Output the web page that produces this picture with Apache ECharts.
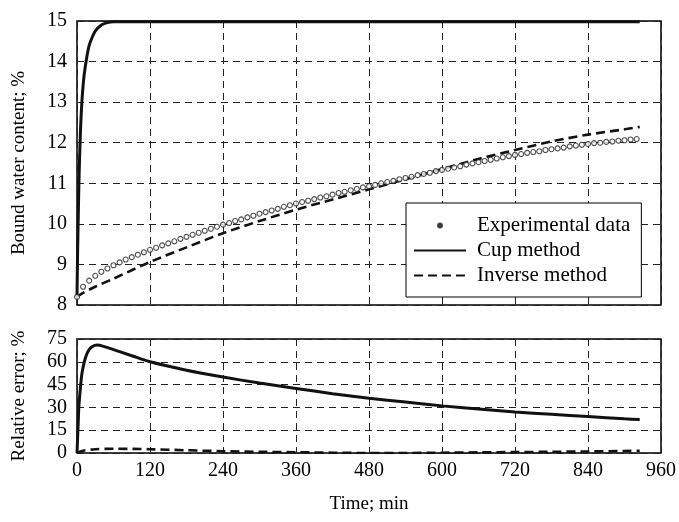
<!DOCTYPE html>
<html>
<head>
<meta charset="utf-8">
<script src="https://cdn.jsdelivr.net/npm/echarts@6/dist/echarts.min.js"></script>
<style>html,body{margin:0;padding:0;background:#fff}#c{width:679px;height:522px}</style>
</head>
<body>
<div id="c"></div>
<script>
// Experimental data: [time (min), bound water content (%)]
var expTime = [0,10,20,30,40,50,60,70,80,90,100,110,120,130,140,150,160,170,180,190,200,210,220,230,240,250,260,270,280,290,300,310,320,330,340,350,360,370,380,390,400,410,420,430,440,450,460,470,480,490,500,510,520,530,540,550,560,570,580,590,600,610,620,630,640,650,660,670,680,690,700,710,720,730,740,750,760,770,780,790,800,810,820,830,840,850,860,870,880,890,900,910,920];
var expValue = [8.20,8.45,8.60,8.72,8.82,8.90,8.98,9.05,9.12,9.18,9.24,9.30,9.36,9.41,9.47,9.52,9.57,9.63,9.68,9.73,9.78,9.83,9.88,9.93,9.98,10.02,10.07,10.11,10.16,10.20,10.25,10.29,10.33,10.37,10.42,10.46,10.50,10.54,10.57,10.61,10.65,10.68,10.72,10.76,10.79,10.83,10.86,10.90,10.93,10.96,11.00,11.03,11.06,11.10,11.13,11.16,11.20,11.23,11.26,11.30,11.33,11.36,11.39,11.42,11.46,11.49,11.52,11.55,11.58,11.61,11.64,11.67,11.70,11.72,11.75,11.77,11.79,11.82,11.84,11.86,11.88,11.91,11.93,11.95,11.97,11.99,12.00,12.02,12.03,12.05,12.06,12.08,12.09];

// Cup method
var cupTime  = [0,1,2,3,4,6,8,10,12,16,20,25,30,40,50,60,120,240,480,720,925];
var cupValue = [8.2,9.3,10.1,10.9,11.5,12.4,13.0,13.4,13.7,14.1,14.4,14.6,14.75,14.9,14.96,14.98,14.98,14.98,14.98,14.98,14.98];

// Inverse method
var invTime  = [0,10,30,60,120,180,240,300,360,420,480,540,600,660,720,780,840,900,925];
var invValue = [8.2,8.3,8.45,8.65,9.06,9.42,9.77,10.07,10.35,10.6,10.85,11.1,11.35,11.6,11.82,12.03,12.2,12.33,12.39];

// Relative error (%)
var errCupTime  = [0,1,2,3,5,8,12,16,20,25,33,45,60,90,120,180,240,300,360,420,480,540,600,660,720,780,840,900,925];
var errCupValue = [0,10,20,30,40,52,60,65,68,70,71,70,68,64,60,54.5,50,46,42.5,39,36,33.5,31,29,27,25.5,24,22.5,22];
var errInvTime  = [0,10,30,60,120,180,240,300,360,420,480,540,600,660,720,780,840,900,925];
var errInvValue = [0,1.5,2.5,2.8,2.5,1.8,1.2,0.8,0.5,0.2,0,0,0.2,0.4,0.6,0.8,1,1.3,1.5];

var xTicks = [0,120,240,360,480,600,720,840,960];
var topTicks = [8,9,10,11,12,13,14,15];
var botTicks = [0,15,30,45,60,75];

function zip(a,b){return a.map(function(v,i){return [v,b[i]];});}

var FONT = "'Liberation Serif','Times New Roman',serif";
var gridLine = {show:true, lineStyle:{color:'#222', type:[7,5], width:1}};

var chart = echarts.init(document.getElementById('c'), null, {renderer:'canvas'});
chart.setOption({
  backgroundColor:'#fff',
  animation:false,
  textStyle:{fontFamily:FONT, color:'#000'},
  grid:[
    {left:77, top:21, width:584, height:284, show:true, borderColor:'#000', borderWidth:1.5, backgroundColor:'transparent'},
    {left:77, top:339, width:584, height:114, show:true, borderColor:'#000', borderWidth:1.5, backgroundColor:'transparent'}
  ],
  legend:{
    left:406, top:203, orient:'vertical',
    backgroundColor:'#fff', borderColor:'#000', borderWidth:1,
    padding:[12,11,11,7], itemGap:4, itemWidth:52, itemHeight:4,
    textStyle:{fontFamily:FONT, fontSize:21, color:'#000', padding:[0,0,0,6]},
    data:[
      {name:'Experimental data', itemStyle:{color:'#222', borderColor:'#222'}},
      {name:'Cup method', itemStyle:{opacity:0}},
      {name:'Inverse method', itemStyle:{opacity:0}}
    ]
  },
  xAxis:[
    {gridIndex:0, type:'value', min:0, max:960, interval:120,
     axisLine:{show:false}, axisTick:{show:false}, axisLabel:{show:false}, splitLine:gridLine},
    {gridIndex:1, type:'value', min:0, max:960, interval:120,
     axisLine:{show:false}, axisTick:{show:false},
     axisLabel:{fontFamily:FONT, fontSize:20, color:'#000', margin:8},
     splitLine:gridLine,
     name:'Time; min', nameLocation:'middle', nameGap:42,
     nameTextStyle:{fontFamily:FONT, fontSize:19, color:'#000'}}
  ],
  yAxis:[
    {gridIndex:0, type:'value', min:8, max:15, interval:1,
     axisLine:{show:false}, axisTick:{show:false},
     axisLabel:{fontFamily:FONT, fontSize:20, color:'#000', margin:10},
     splitLine:gridLine,
     name:'Bound water content; %', nameLocation:'middle', nameGap:48,
     nameTextStyle:{fontFamily:FONT, fontSize:19, color:'#000'}},
    {gridIndex:1, type:'value', min:0, max:75, interval:15,
     axisLine:{show:false}, axisTick:{show:false},
     axisLabel:{fontFamily:FONT, fontSize:20, color:'#000', margin:10},
     splitLine:gridLine,
     name:'Relative error; %', nameLocation:'middle', nameGap:48,
     nameTextStyle:{fontFamily:FONT, fontSize:19, color:'#000'}}
  ],
  series:[
    {name:'Experimental data', type:'scatter', xAxisIndex:0, yAxisIndex:0,
     data:zip(expTime,expValue), symbol:'circle', symbolSize:5, symbolKeepAspect:true,
     itemStyle:{color:'#fff', borderColor:'#222', borderWidth:1.1}, z:4},
    {name:'Cup method', type:'line', xAxisIndex:0, yAxisIndex:0,
     data:zip(cupTime,cupValue), smooth:0.3, showSymbol:false, symbol:'none',
     lineStyle:{color:'#111', width:3}, itemStyle:{color:'#111'}, z:3},
    {name:'Inverse method', type:'line', xAxisIndex:0, yAxisIndex:0,
     data:zip(invTime,invValue), smooth:0.3, showSymbol:false, symbol:'none',
     lineStyle:{color:'#111', width:2.6, type:[9,5]}, itemStyle:{color:'#111'}, z:3},
    {name:'Cup error', type:'line', xAxisIndex:1, yAxisIndex:1,
     data:zip(errCupTime,errCupValue), smooth:0.3, showSymbol:false, symbol:'none',
     lineStyle:{color:'#111', width:3}, z:3},
    {name:'Inverse error', type:'line', xAxisIndex:1, yAxisIndex:1,
     data:zip(errInvTime,errInvValue), smooth:0.3, showSymbol:false, symbol:'none',
     lineStyle:{color:'#111', width:2.6, type:[9,5]}, z:3}
  ]
});
</script>
</body>
</html>
